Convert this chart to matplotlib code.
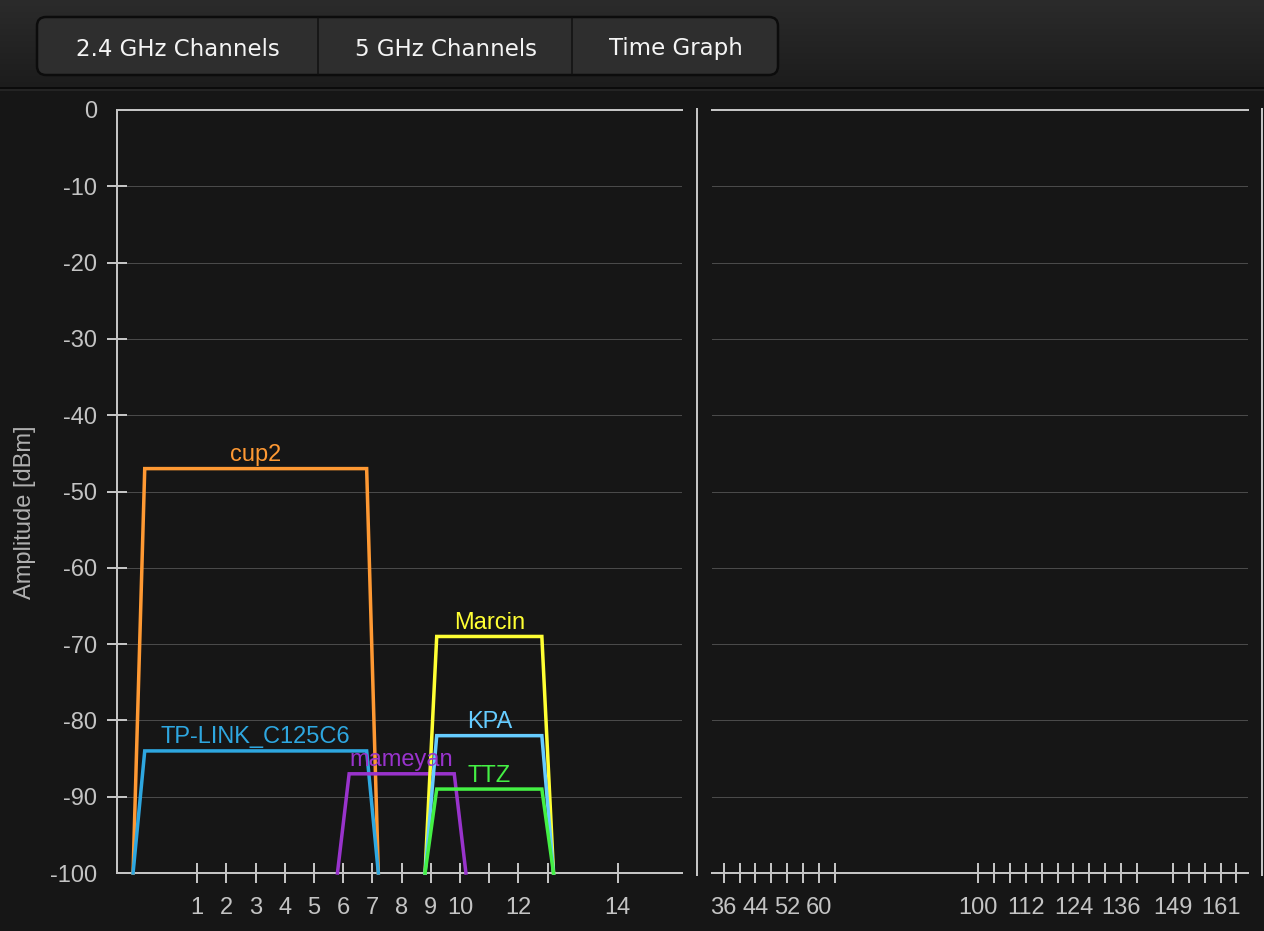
import matplotlib
matplotlib.use("Agg")
import matplotlib.pyplot as plt
import numpy as np
from matplotlib.patches import FancyBboxPatch
from matplotlib.lines import Line2D

# ---------------- data ----------------
networks = ["cup2", "TP-LINK_C125C6", "mameyan", "Marcin", "KPA", "TTZ"]
net_channels = [3, 3, 8, 11, 11, 11]
net_widths_mhz = [40, 40, 20, 20, 20, 20]
net_signal_dbm = [-47, -84, -87, -69, -82, -89]
net_colors = ["#ff9933", "#2ea7e0", "#9933cc", "#ffff33", "#66ccff", "#44f044"]

ch24_ticks = [1, 2, 3, 4, 5, 6, 7, 8, 9, 10, 11, 12, 13, 14]
ch24_labels = ["1", "2", "3", "4", "5", "6", "7", "8", "9", "10", "", "12", "", "14"]
ch5_ticks = [36, 40, 44, 48, 52, 56, 60, 64,
             100, 104, 108, 112, 116, 120, 124, 128, 132, 136, 140,
             149, 153, 157, 161, 165]
ch5_labels = ["36", "", "44", "", "52", "", "60", "",
              "100", "", "", "112", "", "", "124", "", "", "136", "",
              "149", "", "", "161", ""]
y_ticks = [0, -10, -20, -30, -40, -50, -60, -70, -80, -90, -100]
tabs = ["2.4 GHz Channels", "5 GHz Channels", "Time Graph"]
ylabel = "Amplitude [dBm]"

# ---------------- helpers ----------------
def ch24_to_mhz(ch):
    return 2484 if ch == 14 else 2407 + 5 * ch

def ch5_to_mhz(ch):
    return 5000 + 5 * ch

W, H = 1264, 931
DPI = 100
PX = 72.0 / DPI  # points per pixel

BG = "#161616"
SPINE = "#c4c4c4"
GRID = "#4a4a4a"
TICKLBL = "#c4c4c4"
FONT = ["Liberation Sans", "DejaVu Sans"]
FS = 17

plt.rcParams["font.family"] = FONT

fig = plt.figure(figsize=(W / DPI, H / DPI), dpi=DPI, facecolor=BG)

# ---------------- background / banner ----------------
bg = fig.add_axes([0, 0, 1, 1], zorder=0)
bg.set_xlim(0, W)
bg.set_ylim(H, 0)
bg.axis("off")
bg.set_facecolor(BG)
grad = np.linspace(0, 1, 100).reshape(-1, 1)
top_c = np.array([0x2b, 0x2b, 0x2b]) / 255
bot_c = np.array([0x1c, 0x1c, 0x1c]) / 255
img = top_c[None, None, :] * (1 - grad[:, :, None]) + bot_c[None, None, :] * grad[:, :, None]
bg.imshow(img, extent=[0, W, 88, 0], aspect="auto", zorder=0)
bg.add_line(Line2D([0, W], [88, 88], color="#0b0b0b", lw=2 * PX, zorder=1))
bg.add_line(Line2D([0, W], [90, 90], color="#242424", lw=2 * PX, zorder=1))

btn = FancyBboxPatch((37, 17), 741, 58, boxstyle="round,pad=0,rounding_size=9",
                     fc="#2e2e2e", ec="#0c0c0c", lw=2.5 * PX, zorder=2)
bg.add_patch(btn)
for xd in [318, 572]:
    bg.add_line(Line2D([xd, xd], [18, 74], color="#101010", lw=1.5 * PX, zorder=3))
tab_centers = [177.5, 446, 676]
for t, xc in zip(tabs, tab_centers):
    bg.text(xc, 55.5, t, ha="center", va="baseline", color="#f4f4f4",
            fontsize=16.5, family="DejaVu Sans", zorder=4)

# separators of the plot panels
for xs in [697, 1262]:
    bg.add_line(Line2D([xs, xs], [109, 875], color=SPINE, lw=2 * PX, zorder=1))

fig.text(25 / W, 1 - 512 / H, ylabel, rotation=90, ha="center", va="center",
         color="#b0b0b0", fontsize=FS)

# ---------------- plot axes ----------------
def style_axes(ax, show_left):
    ax.set_facecolor("none")
    ax.set_ylim(-100, 0)
    ax.spines["right"].set_visible(False)
    ax.spines["left"].set_visible(show_left)
    for s in ["top", "bottom", "left"]:
        ax.spines[s].set_color(SPINE)
        ax.spines[s].set_linewidth(2 * PX)
    ax.set_yticks(y_ticks)
    ax.grid(axis="y", color=GRID, lw=1 * PX)
    ax.tick_params(axis="x", direction="inout", length=20 * PX, width=2 * PX,
                   color=SPINE, labelcolor=TICKLBL, labelsize=FS, pad=10)
    ax.tick_params(axis="y", direction="inout", length=20 * PX, width=2 * PX,
                   color=SPINE, labelcolor=TICKLBL, labelsize=FS, pad=7)
    ax.set_axisbelow(True)

left = fig.add_axes([117 / W, (H - 873) / H, (682 - 117) / W, (873 - 110) / H], zorder=2)
style_axes(left, True)
left.set_xlim(2398.25, 2495.0)
left.set_xticks([ch24_to_mhz(c) for c in ch24_ticks])
left.set_xticklabels(ch24_labels)
left.set_yticklabels([str(v) for v in y_ticks])
for tk, v in zip(left.yaxis.get_major_ticks(), y_ticks):
    if v in (0, -100):
        tk.tick1line.set_visible(False)

right = fig.add_axes([712 / W, (H - 873) / H, (1248 - 712) / W, (873 - 110) / H], zorder=2)
style_axes(right, False)
right.set_xlim(5165.3, 5839.5)
right.set_xticks([ch5_to_mhz(c) for c in ch5_ticks])
right.set_xticklabels(ch5_labels)
right.tick_params(axis="y", left=False, labelleft=False)

# ---------------- networks ----------------
for name, ch, wd, lvl, col in zip(networks, net_channels, net_widths_mhz,
                                   net_signal_dbm, net_colors):
    f = ch24_to_mhz(ch)
    xs = [f - wd / 2 - 1, f - wd / 2 + 1, f + wd / 2 - 1, f + wd / 2 + 1]
    ys = [-100, lvl, lvl, -100]
    left.plot(xs, ys, color=col, lw=3.5 * PX, solid_joinstyle="miter",
              clip_on=False, zorder=3)
    left.annotate(name, (f, lvl), xytext=(0, 7.5 * PX), textcoords="offset points",
                  ha="center", va="baseline", color=col, fontsize=FS, zorder=4)

fig.savefig("out.png", dpi=DPI, facecolor=BG)
